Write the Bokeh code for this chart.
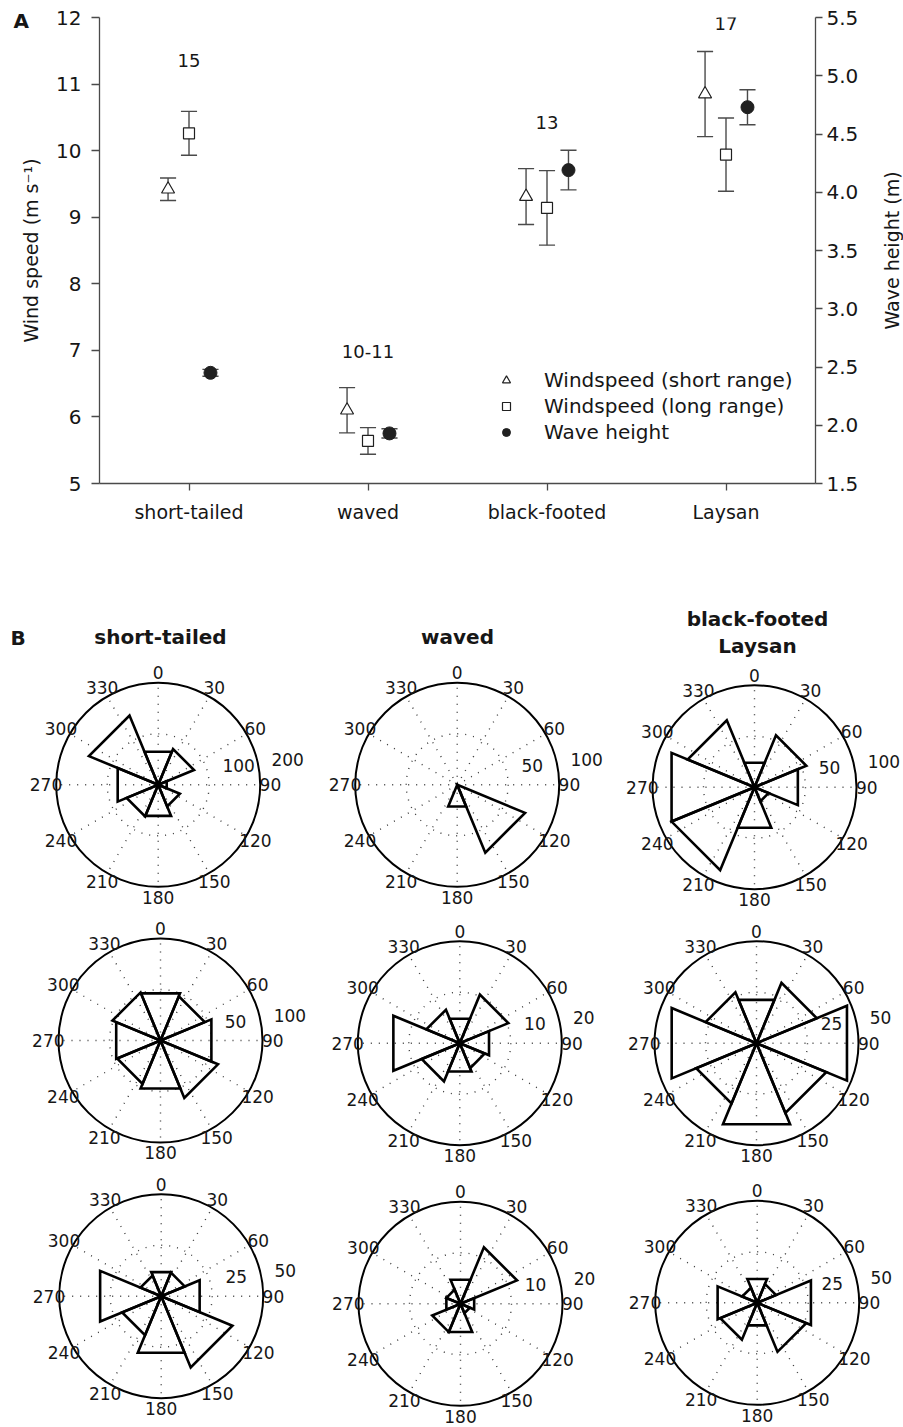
import numpy as np
from bokeh.plotting import figure
from bokeh.models import (Range1d, LinearAxis, FixedTicker, PrintfTickFormatter,
                          Legend, LegendItem, Title, ColumnDataSource)
from bokeh.layouts import column, row
from bokeh.embed import file_html
from bokeh.resources import INLINE
from bokeh.core.properties import value

# ---------------- Panel A data ----------------
species = ["short-tailed", "waved", "black-footed", "Laysan"]
wind_short = [9.42, 6.10, 9.31, 10.85]        # m/s, short range
wind_short_se = [0.17, 0.34, 0.42, 0.64]
wind_long = [10.26, 5.64, 9.14, 9.94]         # m/s, long range
wind_long_se = [0.33, 0.20, 0.56, 0.55]
wave_height = [2.45, 1.93, 4.19, 4.73]        # m
wave_height_se = [0.03, 0.04, 0.17, 0.15]
sample_size = ["15", "10-11", "13", "17"]
wind_ticks = [5, 6, 7, 8, 9, 10, 11, 12]
wave_ticks = [1.5, 2.0, 2.5, 3.0, 3.5, 4.0, 4.5, 5.0, 5.5]

# ---------------- Panel B data (8 direction bins of 45 deg) ----------------
dir_bins = [0, 45, 90, 135, 180, 225, 270, 315]
angle_ticks = [0, 30, 60, 90, 120, 150, 180, 210, 240, 270, 300, 330]
col_titles = ["short-tailed", "waved", "black-footed\nLaysan"]
rose_short_tailed_1 = [70, 76, 18, 46, 66, 67, 86, 147]
rose_waved_1 = [0, 0, 0, 72, 23, 0, 0, 0]
rose_bf_laysan_1 = [26, 55, 46, 15, 43, 88, 88, 71]
rose_short_tailed_2 = [50, 47, 54, 61, 51, 46, 47, 51]
rose_waved_2 = [5.2, 10.3, 6.2, 5.3, 6.0, 8.1, 14.1, 7.1]
rose_bf_laysan_2 = [23, 32, 48, 37, 43, 32, 45, 27]
rose_short_tailed_3 = [12.8, 12.5, 20.4, 37.8, 30, 20.7, 32.4, 11]
rose_waved_3 = [5.1, 12, 2.9, 2, 6.0, 6, 3, 3]
rose_bf_laysan_3 = [12.6, 10, 28.5, 26, 12, 19.6, 21, 8]
rose_scale_max = [200, 100, 100, 100, 20, 50, 50, 20, 50]
rose_scale_mid = ["100", "50", "50", "50", "10", "25", "25", "10", "25"]
rose_scale_top = ["200", "100", "100", "100", "20", "50", "50", "20", "50"]

roses = [rose_short_tailed_1, rose_waved_1, rose_bf_laysan_1,
         rose_short_tailed_2, rose_waved_2, rose_bf_laysan_2,
         rose_short_tailed_3, rose_waved_3, rose_bf_laysan_3]

# ---------------- styling / layout constants ----------------
FONT = "DejaVu Sans"
AX = "#4a4a4a"
TXT = "#161616"
MK = "#202020"
W = 903
HA = 548
WA = 880

# ================= Panel A =================
pA = figure(width=WA, height=HA, x_range=Range1d(0.5, 4.5), y_range=Range1d(5, 12),
            output_backend="svg", toolbar_location=None,
            min_border_left=99, min_border_right=WA - 815, min_border_top=17,
            min_border_bottom=65)
pA.extra_y_ranges = {"wave": Range1d(1.5, 5.5)}
pA.outline_line_color = None
pA.grid.visible = False
pA.background_fill_color = "white"
pA.border_fill_color = "white"

xa = pA.xaxis[0]
ya = pA.yaxis[0]
xa.ticker = FixedTicker(ticks=[1, 2, 3, 4])
xa.major_label_overrides = {i + 1: s for i, s in enumerate(species)}
ya.ticker = FixedTicker(ticks=wind_ticks)
ya.formatter = PrintfTickFormatter(format="%d")
ya.axis_label = "Wind speed (m s\u207b\u00b9)"
yr = LinearAxis(y_range_name="wave", ticker=FixedTicker(ticks=wave_ticks),
                formatter=PrintfTickFormatter(format="%.1f"))
pA.add_layout(yr, "right")

for ax in (xa, ya, yr):
    ax.axis_line_color = AX
    ax.axis_line_width = 1.3
    ax.major_tick_line_color = AX
    ax.major_tick_line_width = 1.3
    ax.minor_tick_line_color = None
    ax.major_tick_in = 0
    ax.major_label_text_font = FONT
    ax.major_label_text_color = TXT
    ax.major_label_text_font_size = "20px"
    ax.axis_label_text_font = FONT
    ax.axis_label_text_font_style = "normal"
    ax.axis_label_text_font_size = "19px"
    ax.axis_label_text_color = TXT
xa.major_tick_out = 7
xa.major_label_standoff = 10
xa.major_label_text_font_size = "19px"
ya.major_tick_out = 8
ya.major_label_standoff = 10
ya.axis_label_standoff = 11
yr.major_tick_out = 7
yr.major_label_standoff = 4

OFF = [-0.117, 0.0, 0.12]
CAP = 0.045
cats = np.arange(1, 5)


def error_bars(xs, ys, es, range_name="default"):
    src = ColumnDataSource(dict(
        x=list(xs), lo=[y - e for y, e in zip(ys, es)], hi=[y + e for y, e in zip(ys, es)],
        x0=[x - CAP for x in xs], x1=[x + CAP for x in xs]))
    kw = dict(source=src, line_color=AX, line_width=1.4, y_range_name=range_name)
    pA.segment(x0="x", y0="lo", x1="x", y1="hi", **kw)
    pA.segment(x0="x0", y0="hi", x1="x1", y1="hi", **kw)
    pA.segment(x0="x0", y0="lo", x1="x1", y1="lo", **kw)


x_tri = cats + OFF[0]
x_sq = cats + OFF[1]
x_dot = cats + OFF[2]
error_bars(x_tri, wind_short, wind_short_se)
error_bars(x_sq, wind_long, wind_long_se)
error_bars(x_dot, wave_height, wave_height_se, "wave")

tri = pA.scatter(x_tri, wind_short, marker="triangle", size=13, fill_color="white",
                 line_color=MK, line_width=1.2)
sq = pA.scatter(x_sq, wind_long, marker="square", size=11, fill_color="white",
                line_color=MK, line_width=1.2)
dot = pA.scatter(x_dot, wave_height, marker="circle", size=13, fill_color=MK,
                 line_color=MK, y_range_name="wave")

n_label_y = [11.35, 6.99, 10.43, 11.91]
pA.text(x=list(cats), y=n_label_y, text=sample_size, text_align="center",
        text_baseline="middle", text_font=value(FONT), text_font_size=value("18px"),
        text_color=TXT)

legend = Legend(items=[LegendItem(label="Windspeed (short range)", renderers=[tri]),
                       LegendItem(label="Windspeed (long range)", renderers=[sq]),
                       LegendItem(label="Wave height", renderers=[dot])],
                location=(397, 38), glyph_width=20, glyph_height=26, label_height=26,
                label_standoff=28, spacing=0, padding=0, margin=0,
                border_line_alpha=0, background_fill_alpha=0,
                label_text_font=FONT, label_text_font_size="20px",
                label_text_color=TXT, label_text_baseline="middle")
pA.add_layout(legend)

tA = Title(text="A", align="left", offset=-86, standoff=-30, vertical_align="bottom",
           text_font=FONT, text_font_size="20px", text_font_style="bold", text_color=TXT)
pA.add_layout(tA, "above")

# narrow strip carrying the right-hand axis title (reads bottom-to-top)
WL = W - WA
pL = figure(width=WL, height=HA, x_range=Range1d(0, WL), y_range=Range1d(HA, 0),
            output_backend="svg", toolbar_location=None, min_border=0,
            min_border_left=0, min_border_right=0, min_border_top=0, min_border_bottom=0,
            x_axis_type=None, y_axis_type=None)
pL.outline_line_color = None
pL.background_fill_color = "white"
pL.border_fill_color = "white"
pL.text([891.7 - WA], [250.0], text=["Wave height (m)"], angle=np.pi / 2,
        text_align="center", text_baseline="middle", text_font=value(FONT),
        text_font_size=value("19px"), text_color=TXT)

# ================= Panel B =================
HB = 878
pB = figure(width=W, height=HB, x_range=Range1d(0, W), y_range=Range1d(HB, 0),
            output_backend="svg", toolbar_location=None, min_border=0,
            min_border_left=0, min_border_right=0, min_border_top=0, min_border_bottom=0,
            x_axis_type=None, y_axis_type=None)
pB.outline_line_color = None
pB.background_fill_color = "white"
pB.border_fill_color = "white"
for p in (pA, pL, pB):
    if hasattr(p, "frame_align"):
        p.frame_align = False

R = 102.0
centers = [(157.7, 236.3), (456.7, 236.3), (754.0, 238.7),
           (160.0, 492.0), (459.3, 494.7), (756.0, 494.7),
           (160.7, 747.7), (460.0, 755.3), (756.7, 754.3)]

grid_xs, grid_ys = [], []
ring_x, ring_y = [], []
wedge_xs, wedge_ys = [], []
lab_x, lab_y, lab_t = [], [], []
sc_x, sc_y, sc_t = [], [], []
for (cx, cy), vals, vmax, mid, top in zip(centers, roses, rose_scale_max,
                                          rose_scale_mid, rose_scale_top):
    for a in angle_ticks:
        t = np.radians(a)
        grid_xs.append([cx, cx + R * np.sin(t)])
        grid_ys.append([cy, cy - R * np.cos(t)])
        lab_x.append(cx + 1.1 * R * np.sin(t))
        lab_y.append(cy - 1.1 * R * np.cos(t))
        lab_t.append(str(a))
    ring_x.append(cx)
    ring_y.append(cy)
    for c, v in zip(dir_bins, vals):
        if v <= 0:
            continue
        r = v / vmax * R
        a1, a2 = np.radians(c - 22.5), np.radians(c + 22.5)
        wedge_xs.append([cx, cx + r * np.sin(a1), cx + r * np.sin(a2)])
        wedge_ys.append([cy, cy - r * np.cos(a1), cy - r * np.cos(a2)])
    sc_x += [cx + 0.63 * R, cx + 1.11 * R]
    sc_y += [cy - 0.19 * R, cy - 0.25 * R]
    sc_t += [mid, top]

pB.multi_line(grid_xs, grid_ys, line_color="#3a3a3a", line_width=1.4, line_dash="1 7")
pB.circle(ring_x, ring_y, radius=R * 0.5, fill_color=None, line_color="#3a3a3a",
          line_width=1.4, line_dash="1 7")
pB.patches(wedge_xs, wedge_ys, fill_color=None, line_color="black", line_width=2.6,
           line_join="miter")
pB.circle(ring_x, ring_y, radius=R, fill_color=None, line_color="black", line_width=2)
pB.text(lab_x, lab_y, text=lab_t, text_align="center", text_baseline="middle",
        text_font=value(FONT), text_font_size=value("17px"), text_color=TXT)
pB.text(sc_x, sc_y, text=sc_t, text_align="left", text_baseline="middle",
        text_font=value(FONT), text_font_size=value("17px"), text_color=TXT)

title_x = [160.0, 457.0, 757.0, 757.0]
title_y = [88.0, 88.0, 70.0, 97.0]
title_t = [col_titles[0], col_titles[1]] + col_titles[2].split("\n")
pB.text(title_x, title_y, text=title_t, text_align="center", text_baseline="alphabetic",
        text_font=value(FONT), text_font_size=value("20px"), text_font_style="bold",
        text_color=TXT)
pB.text([10.0], [89.0], text=["B"], text_align="left", text_baseline="alphabetic",
        text_font=value(FONT), text_font_size=value("20px"), text_font_style="bold",
        text_color=TXT)

layout = column(row(pA, pL), pB)
open("out.html", "w").write(file_html(layout, INLINE))
